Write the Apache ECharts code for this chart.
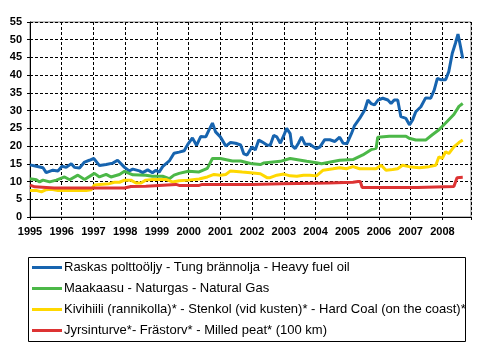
<!DOCTYPE html>
<html>
<head>
<meta charset="utf-8">
<script src="https://cdn.jsdelivr.net/npm/echarts@6/dist/echarts.min.js"></script>
<style>body{margin:0} #main{width:495px;height:351px}</style>
</head>
<body>
<div id="main"></div>
<script>
// series names (legend)
const seriesNames = [
  'Raskas polttoöljy - Tung brännolja - Heavy fuel oil',
  'Maakaasu - Naturgas - Natural Gas',
  'Kivihiili (rannikolla)* - Stenkol (vid kusten)* - Hard Coal (on the coast)*',
  'Jyrsinturve*- Frästorv* - Milled peat* (100 km)'
];
const colors = ['#1764af', '#4cb848', '#ffd800', '#dd3333'];
const yTicks = [0, 5, 10, 15, 20, 25, 30, 35, 40, 45, 50, 55];
const years = [1995, 1996, 1997, 1998, 1999, 2000, 2001, 2002, 2003, 2004, 2005, 2006, 2007, 2008];

// [year, value]
const heavyOil = [
  [1995.00, 14.7], [1995.20, 14.3], [1995.41, 13.9], [1995.51, 12.5], [1995.72, 13.2], [1995.88, 13.0],
  [1996.01, 14.3], [1996.14, 14.0], [1996.30, 15.0], [1996.40, 14.0], [1996.56, 13.8], [1996.72, 15.5],
  [1996.87, 16.0], [1997.01, 16.5], [1997.19, 14.5], [1997.40, 14.8], [1997.61, 15.2], [1997.76, 16.0],
  [1997.98, 14.0], [1998.13, 13.0], [1998.24, 13.5], [1998.45, 13.0], [1998.55, 12.5], [1998.71, 13.3],
  [1998.86, 12.5], [1998.97, 13.2], [1999.07, 12.6], [1999.18, 14.2], [1999.39, 15.8], [1999.54, 18.0],
  [1999.70, 18.3], [1999.86, 18.7], [1999.99, 20.7], [2000.12, 22.3], [2000.25, 20.2], [2000.38, 22.7],
  [2000.54, 22.6], [2000.64, 24.5], [2000.75, 26.5], [2000.85, 24.0], [2001.00, 22.6], [2001.17, 20.0],
  [2001.32, 21.0], [2001.48, 20.8], [2001.64, 20.3], [2001.74, 17.8], [2001.84, 17.5], [2002.00, 19.8],
  [2002.10, 18.9], [2002.21, 21.7], [2002.31, 21.2], [2002.47, 20.3], [2002.57, 20.2], [2002.68, 23.0],
  [2002.78, 22.6], [2002.89, 20.8], [2003.00, 23.0], [2003.09, 25.0], [2003.20, 23.5], [2003.25, 20.2],
  [2003.36, 19.3], [2003.46, 20.8], [2003.56, 22.6], [2003.67, 20.5], [2003.82, 20.5], [2003.93, 19.8],
  [2004.03, 19.3], [2004.14, 19.8], [2004.29, 21.8], [2004.45, 21.8], [2004.61, 21.3], [2004.76, 22.5],
  [2004.87, 20.8], [2004.99, 20.7], [2005.13, 23.5], [2005.23, 25.8], [2005.39, 27.8], [2005.55, 30.2],
  [2005.65, 33.0], [2005.75, 32.0], [2005.86, 31.6], [2005.97, 33.0], [2006.12, 33.5], [2006.28, 33.0],
  [2006.38, 32.0], [2006.48, 33.0], [2006.59, 33.0], [2006.69, 28.3], [2006.85, 27.8], [2006.96, 26.0],
  [2007.06, 27.4], [2007.16, 29.7], [2007.32, 31.1], [2007.47, 33.6], [2007.63, 33.5], [2007.74, 35.8],
  [2007.84, 39.1], [2007.96, 38.7], [2008.10, 38.7], [2008.20, 41.0], [2008.31, 46.2], [2008.41, 49.0],
  [2008.49, 51.6], [2008.57, 48.0], [2008.64, 44.7]
];
const naturalGas = [
  [1995.00, 10.8], [1995.20, 10.5], [1995.30, 9.9], [1995.41, 10.4], [1995.62, 9.9], [1995.83, 10.4],
  [1996.09, 11.3], [1996.25, 10.5], [1996.51, 11.8], [1996.72, 10.6], [1997.03, 12.3], [1997.19, 11.3],
  [1997.40, 12.0], [1997.55, 11.3], [1997.82, 12.0], [1997.98, 12.9], [1998.24, 11.9], [1998.65, 11.8],
  [1998.86, 11.5], [1999.18, 11.5], [1999.39, 10.8], [1999.54, 11.8], [1999.70, 12.3], [1999.99, 12.9],
  [2000.33, 12.7], [2000.59, 13.7], [2000.75, 16.5], [2001.00, 16.5], [2001.38, 15.8], [2001.64, 15.8],
  [2001.95, 15.1], [2002.26, 14.8], [2002.36, 15.2], [2002.89, 15.7], [2003.20, 16.5], [2003.72, 15.7],
  [2004.03, 15.3], [2004.19, 15.0], [2004.35, 15.3], [2004.76, 16.0], [2005.18, 16.2], [2005.49, 17.5],
  [2005.75, 19.0], [2005.91, 19.4], [2005.96, 22.5], [2006.33, 22.8], [2006.85, 22.8], [2006.95, 22.2],
  [2007.16, 21.7], [2007.47, 21.7], [2007.68, 23.2], [2007.89, 24.6], [2008.10, 26.5], [2008.36, 28.9],
  [2008.52, 31.2], [2008.64, 32.0]
];
const hardCoal = [
  [1995.00, 7.5], [1995.20, 7.5], [1995.36, 7.1], [1995.41, 6.8], [1995.51, 7.7], [1995.67, 7.8],
  [1995.88, 7.5], [1996.35, 7.5], [1996.77, 7.5], [1996.93, 7.7], [1997.03, 9.0], [1997.19, 9.2],
  [1997.50, 9.4], [1997.66, 9.8], [1997.82, 9.8], [1997.98, 10.4], [1998.18, 10.4], [1998.34, 9.6],
  [1998.50, 9.6], [1998.65, 10.4], [1998.86, 10.6], [1999.28, 10.6], [1999.49, 9.9], [1999.70, 10.2],
  [1999.99, 10.4], [2000.33, 10.7], [2000.59, 11.3], [2000.80, 12.0], [2001.00, 11.8], [2001.17, 12.0],
  [2001.32, 13.0], [2001.69, 12.7], [2001.95, 12.5], [2002.26, 12.2], [2002.47, 11.1], [2002.57, 11.1],
  [2002.78, 11.8], [2003.00, 12.1], [2003.20, 11.6], [2003.41, 11.5], [2003.62, 11.8], [2003.82, 11.8],
  [2004.03, 11.6], [2004.24, 13.2], [2004.55, 13.6], [2004.76, 13.9], [2004.97, 13.6], [2005.18, 14.2],
  [2005.39, 13.6], [2005.91, 13.6], [2006.07, 14.6], [2006.22, 13.2], [2006.43, 13.4], [2006.59, 13.6],
  [2006.74, 14.6], [2006.95, 14.2], [2007.27, 13.9], [2007.58, 14.2], [2007.79, 14.6], [2007.89, 17.0],
  [2007.99, 16.5], [2008.10, 18.4], [2008.20, 17.9], [2008.36, 19.8], [2008.52, 21.0], [2008.64, 21.7]
];
const milledPeat = [
  [1995.00, 9.0], [1995.15, 8.5], [1995.76, 8.2], [1997.98, 8.2], [1998.18, 8.6], [1998.65, 8.7],
  [1998.70, 9.2], [1999.60, 9.2], [1999.70, 8.9], [2000.33, 8.9], [2000.43, 9.2], [2002.00, 9.2],
  [2002.94, 9.4], [2004.40, 9.6], [2005.18, 9.8], [2005.34, 10.0], [2005.41, 10.0], [2005.47, 8.3],
  [2007.21, 8.3], [2007.26, 8.6], [2008.36, 8.6], [2008.46, 11.1], [2008.64, 11.2]
];
const seriesData = [heavyOil, naturalGas, hardCoal, milledPeat];

const xMin = years[0];
const xMax = 2008.9;

const chart = echarts.init(document.getElementById('main'));

// legend drawn by hand: framed box with a bar and a label per series
const legendItems = [{
  type: 'rect',
  shape: { x: 28.5, y: 257.5, width: 437, height: 84 },
  style: { fill: '#fff', stroke: '#000', lineWidth: 1 }
}];
seriesNames.forEach((name, i) => {
  const cy = 267.5 + i * 21;
  legendItems.push({
    type: 'rect',
    shape: { x: 32, y: cy - 1.5, width: 30, height: 3 },
    style: { fill: colors[i] }
  });
  legendItems.push({
    type: 'text',
    x: 64,
    y: cy,
    style: { text: name, fill: '#000', font: '13px Arial', verticalAlign: 'middle' }
  });
});

chart.setOption({
  animation: false,
  grid: { left: 30, top: 22, right: 24, bottom: 134, show: true, borderColor: '#808080', borderWidth: 1 },
  graphic: legendItems,
  xAxis: {
    type: 'value',
    min: xMin,
    max: xMax,
    interval: 1,
    axisLine: { show: true, onZero: false, lineStyle: { color: '#000', width: 1 } },
    axisTick: { show: true, length: 3, lineStyle: { color: '#000' } },
    axisLabel: {
      margin: 9, fontWeight: 'bold', fontSize: 11, color: '#000',
      formatter: v => (years.indexOf(v) >= 0 ? String(v) : '')
    },
    splitLine: { show: true, lineStyle: { color: '#000', type: [3, 2], width: 1 } }
  },
  yAxis: {
    type: 'value',
    min: yTicks[0],
    max: yTicks[yTicks.length - 1],
    interval: 5,
    axisLine: { show: true, onZero: false, lineStyle: { color: '#000', width: 1 } },
    axisTick: { show: true, length: 3, lineStyle: { color: '#000' } },
    axisLabel: { margin: 8, fontWeight: 'bold', fontSize: 11, color: '#000' },
    splitLine: { show: true, lineStyle: { color: '#000', type: [3, 2], width: 1 } }
  },
  series: seriesNames.map((name, i) => ({
    name: name,
    type: 'line',
    data: seriesData[i],
    symbol: 'none',
    lineStyle: { width: 3, color: colors[i] }
  }))
});
</script>
</body>
</html>
